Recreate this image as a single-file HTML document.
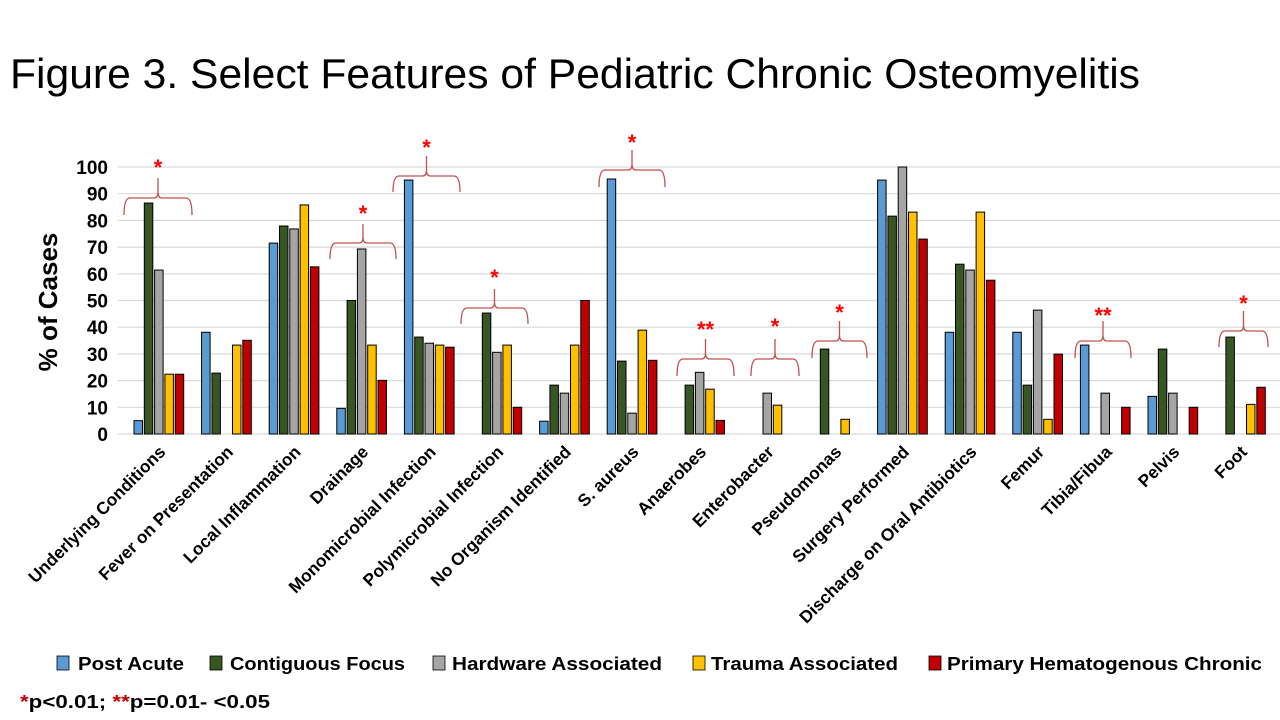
<!DOCTYPE html>
<html><head><meta charset="utf-8"><style>
html,body{margin:0;padding:0;background:#fff;}
svg{display:block;font-family:"Liberation Sans",sans-serif;}
</style></head><body>
<svg width="1280" height="720" viewBox="0 0 1280 720" xmlns="http://www.w3.org/2000/svg">
<text x="10" y="88" font-size="42" textLength="1130" lengthAdjust="spacingAndGlyphs" fill="#000">Figure 3. Select Features of Pediatric Chronic Osteomyelitis</text>
<g id="grid" stroke="#d9d9d9" stroke-width="1.2"></g>
<g id="yt" font-size="19" font-weight="bold" text-anchor="end"></g>
<text transform="translate(57,302) rotate(-90)" font-size="26" font-weight="bold" text-anchor="middle">% of Cases</text>
<g id="bars" stroke="#000" stroke-width="1"></g>
<g id="br" fill="none" stroke="#c0504d" stroke-width="1.3"></g>
<g id="st" fill="#ff0000" font-size="22" font-weight="bold" text-anchor="middle"></g>
<g id="lab" font-size="17.3" font-weight="bold" text-anchor="end"></g>
<g font-size="18" font-weight="bold">
<rect x="57" y="656" width="12" height="14" fill="#5b9bd5" stroke="#000" stroke-width="0.8"/><text x="78" y="670" textLength="106" lengthAdjust="spacingAndGlyphs">Post Acute</text>
<rect x="210" y="656" width="12" height="14" fill="#375623" stroke="#000" stroke-width="0.8"/><text x="230" y="670" textLength="175" lengthAdjust="spacingAndGlyphs">Contiguous Focus</text>
<rect x="433" y="656" width="12" height="14" fill="#a5a5a5" stroke="#000" stroke-width="0.8"/><text x="452" y="670" textLength="210" lengthAdjust="spacingAndGlyphs">Hardware Associated</text>
<rect x="693" y="656" width="12" height="14" fill="#ffc000" stroke="#000" stroke-width="0.8"/><text x="711" y="670" textLength="187" lengthAdjust="spacingAndGlyphs">Trauma Associated</text>
<rect x="929" y="656" width="12" height="14" fill="#c00000" stroke="#000" stroke-width="0.8"/><text x="947" y="670" textLength="315" lengthAdjust="spacingAndGlyphs">Primary Hematogenous Chronic</text>
<text x="20" y="708" textLength="250" lengthAdjust="spacingAndGlyphs"><tspan fill="#c00000">*</tspan>p&lt;0.01; <tspan fill="#c00000">**</tspan>p=0.01- &lt;0.05</text>
</g>
<script>
var NS="http://www.w3.org/2000/svg";
function el(p,t,a,txt){var e=document.createElementNS(NS,t);for(var k in a)e.setAttribute(k,a[k]);if(txt!=null)e.textContent=txt;document.getElementById(p).appendChild(e);return e;}
var y0=434,sc=2.67;
for(var v=0;v<=100;v+=10){var y=y0-v*sc;el("grid","line",{x1:118,x2:1280,y1:y,y2:y});el("yt","text",{x:108,y:y+7},v);}
var cats=["Underlying Conditions","Fever on Presentation","Local Inflammation","Drainage","Monomicrobial Infection","Polymicrobial Infection","No Organism Identified","S. aureus","Anaerobes","Enterobacter","Pseudomonas","Surgery Performed","Discharge on Oral Antibiotics","Femur","Tibia/Fibua","Pelvis","Foot"];
var d=[[5,86.5,61.4,22.4,22.4],[38.1,22.8,0,33.3,35.1],[71.5,77.9,76.8,85.8,62.6],[9.6,50,69.3,33.3,20.1],[95.1,36.3,34,33.3,32.5],[0,45.3,30.6,33.3,10],[4.8,18.3,15.3,33.3,50],[95.5,27.3,7.8,38.9,27.6],[0,18.3,23.1,16.8,5.1],[0,0,15.3,10.8,0],[0,31.8,0,5.5,0],[95.1,81.6,100,83.1,73],[38.1,63.6,61.4,83.1,57.6],[38.1,18.3,46.4,5.5,29.9],[33.3,0,15.3,0,10],[14.1,31.8,15.3,0,10],[0,36.3,0,11.1,17.5]];
var cols=["#5b9bd5","#375623","#a5a5a5","#ffc000","#c00000"];
for(var i=0;i<17;i++){var bx=134+i*67.6;
 for(var j=0;j<5;j++){var v=d[i][j];if(v<=0)continue;var h=v*sc;el("bars","rect",{x:bx+j*10.3,y:y0-h,width:8.5,height:h,fill:cols[j]});}
 var cx=bx+25.5;
 el("lab","text",{transform:"translate("+(cx+7)+",453) rotate(-45)"},cats[i]);}
var br=[[124,192,198,215,178,162,"*"],[330,396,243,259,224,208,"*"],[393,460,176,192,156,142,"*"],[461,528,308,324,289,272,"*"],[599,665,170,187,150,137,"*"],[677,734,359,376,339,324,"**"],[751,799,359,376,339,321,"*"],[812,867,341,358,321,307,"*"],[1075,1131,341,358,321,310,"**"],[1219,1268,331,347,311,298,"*"]];
br.forEach(function(b){var a=b[0],c=b[1],h=b[2],bo=b[3],pk=b[4],m=(a+c)/2;
 var p="M"+a+","+bo+" Q"+a+","+h+" "+(a+6)+","+h+" L"+(m-4)+","+h+" Q"+m+","+h+" "+m+","+(h-6)+" L"+m+","+pk+" M"+m+","+(h-6)+" Q"+m+","+h+" "+(m+4)+","+h+" L"+(c-6)+","+h+" Q"+c+","+h+" "+c+","+bo;
 el("br","path",{d:p});el("st","text",{x:m,y:b[5]+13},b[6]);});
</script>
</svg>
</body></html>
